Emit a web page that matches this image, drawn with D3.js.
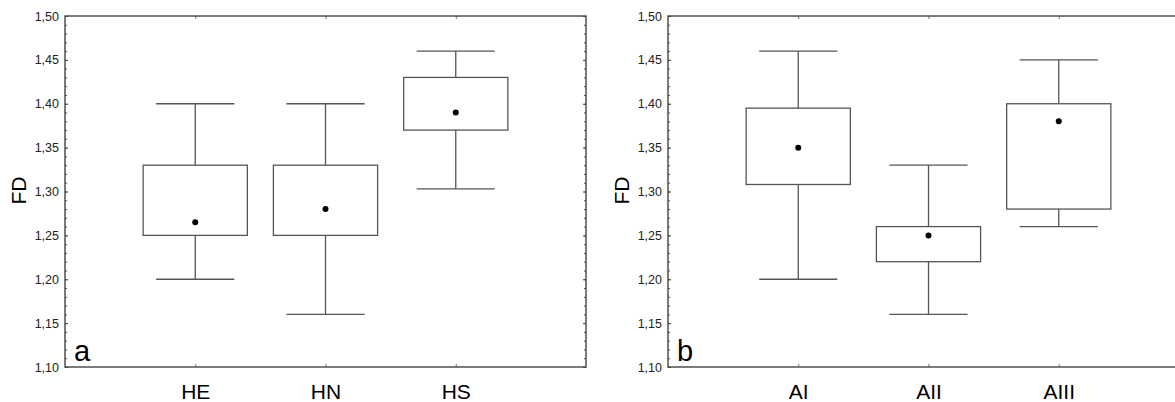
<!DOCTYPE html>
<html>
<head>
<meta charset="utf-8">
<script src="https://cdn.jsdelivr.net/npm/d3@7"></script>
<style>
  body { margin: 0; background: #fff; overflow: hidden; }
  svg { display: block; font-family: "Liberation Sans", Arial, sans-serif; }
  .tickLabel text { fill: #222; font-size: 12.5px; }
  .catAxis text { fill: #000; font-size: 21px; }
</style>
</head>
<body>
<div id="chart"></div>
<script>
// panel a
var catsA = ["HE", "HN", "HS"];
var lowA = [1.20, 1.16, 1.303];
var q1A = [1.25, 1.25, 1.37];
var meanA = [1.265, 1.28, 1.39];
var q3A = [1.33, 1.33, 1.43];
var highA = [1.40, 1.40, 1.46];

// panel b
var catsB = ["AI", "AII", "AIII"];
var lowB = [1.20, 1.16, 1.26];
var q1B = [1.308, 1.22, 1.28];
var meanB = [1.35, 1.25, 1.38];
var q3B = [1.395, 1.26, 1.40];
var highB = [1.46, 1.33, 1.45];

var yTicks = [1.10, 1.15, 1.20, 1.25, 1.30, 1.35, 1.40, 1.45, 1.50];
var yMinor = d3.range(110, 151).map(d => d / 100);

var svgWidth = 1175;
var svgHeight = 402;
var plotTop = 16, plotH = 351, plotW = 521;

var svg = d3.select("#chart")
  .append("svg")
  .attr("width", svgWidth)
  .attr("height", svgHeight);

var fmt = d => d3.format(".2f")(d).replace(".", ",");

function drawPanel(left, cats, low, q1, mean, q3, high, letter) {
  var g = svg.append("g")
    .attr("transform", `translate(${left}, ${plotTop})`);

  var x = d3.scalePoint().domain(cats).range([0, plotW]).padding(1);
  var y = d3.scaleLinear().domain([1.10, 1.50]).range([plotH, 0]);
  var step = x.step();

  // minor ticks, both sides
  g.append("g")
    .call(d3.axisLeft(y).tickValues(yMinor).tickSize(-2).tickFormat(""))
    .call(a => a.select(".domain").remove())
    .selectAll("line").attr("stroke", "#555");
  g.append("g")
    .attr("transform", `translate(${plotW}, 0)`)
    .call(d3.axisRight(y).tickValues(yMinor).tickSize(-2).tickFormat(""))
    .call(a => a.select(".domain").remove())
    .selectAll("line").attr("stroke", "#555");

  // major y ticks with labels
  g.append("g")
    .attr("class", "tickLabel")
    .call(d3.axisLeft(y).tickValues(yTicks).tickSizeInner(-3).tickSizeOuter(0)
      .tickPadding(6).tickFormat(fmt))
    .call(a => a.select(".domain").remove())
    .selectAll("line").attr("stroke", "#444");
  g.append("g")
    .attr("transform", `translate(${plotW}, 0)`)
    .call(d3.axisRight(y).tickValues(yTicks).tickSizeInner(-3).tickSizeOuter(0).tickFormat(""))
    .call(a => a.select(".domain").remove())
    .selectAll("line").attr("stroke", "#444");

  // category axes
  g.append("g")
    .attr("class", "catAxis")
    .attr("transform", `translate(0, ${plotH})`)
    .call(d3.axisBottom(x).tickSizeInner(-3).tickSizeOuter(0).tickPadding(17))
    .call(a => a.select(".domain").remove())
    .selectAll("line").attr("stroke", "#777");
  g.append("g")
    .call(d3.axisTop(x).tickSizeInner(-3).tickSizeOuter(0).tickFormat(""))
    .call(a => a.select(".domain").remove())
    .selectAll("line").attr("stroke", "#777");

  // frame
  g.append("rect")
    .attr("width", plotW)
    .attr("height", plotH)
    .attr("fill", "none")
    .attr("stroke", "#444")
    .attr("stroke-width", 1.4);

  var boxW = step * 0.8;
  var capW = step * 0.6;

  cats.forEach(function(c, i) {
    var cx = x(c);
    var bg = g.append("g")
      .attr("stroke", "#555")
      .attr("stroke-width", 1.3)
      .attr("fill", "none");

    // whiskers
    bg.append("line")
      .attr("x1", cx).attr("x2", cx)
      .attr("y1", y(high[i])).attr("y2", y(q3[i]));
    bg.append("line")
      .attr("x1", cx).attr("x2", cx)
      .attr("y1", y(q1[i])).attr("y2", y(low[i]));
    bg.append("line")
      .attr("x1", cx - capW / 2).attr("x2", cx + capW / 2)
      .attr("y1", y(high[i])).attr("y2", y(high[i]));
    bg.append("line")
      .attr("x1", cx - capW / 2).attr("x2", cx + capW / 2)
      .attr("y1", y(low[i])).attr("y2", y(low[i]));

    // box
    bg.append("rect")
      .attr("x", cx - boxW / 2)
      .attr("y", y(q3[i]))
      .attr("width", boxW)
      .attr("height", y(q1[i]) - y(q3[i]));

    // mean
    g.append("circle")
      .attr("cx", cx)
      .attr("cy", y(mean[i]))
      .attr("r", 3)
      .attr("fill", "#000");
  });

  // panel letter
  g.append("text")
    .attr("x", 9)
    .attr("y", plotH - 6)
    .attr("font-size", "29px")
    .attr("fill", "#000")
    .text(letter);

  // y axis title
  g.append("text")
    .attr("transform", `translate(${-39}, ${plotH / 2 - 1}) rotate(-90)`)
    .attr("text-anchor", "middle")
    .attr("font-size", "21px")
    .attr("fill", "#000")
    .text("FD");
}

drawPanel(65, catsA, lowA, q1A, meanA, q3A, highA, "a");
drawPanel(668, catsB, lowB, q1B, meanB, q3B, highB, "b");
</script>
</body>
</html>
